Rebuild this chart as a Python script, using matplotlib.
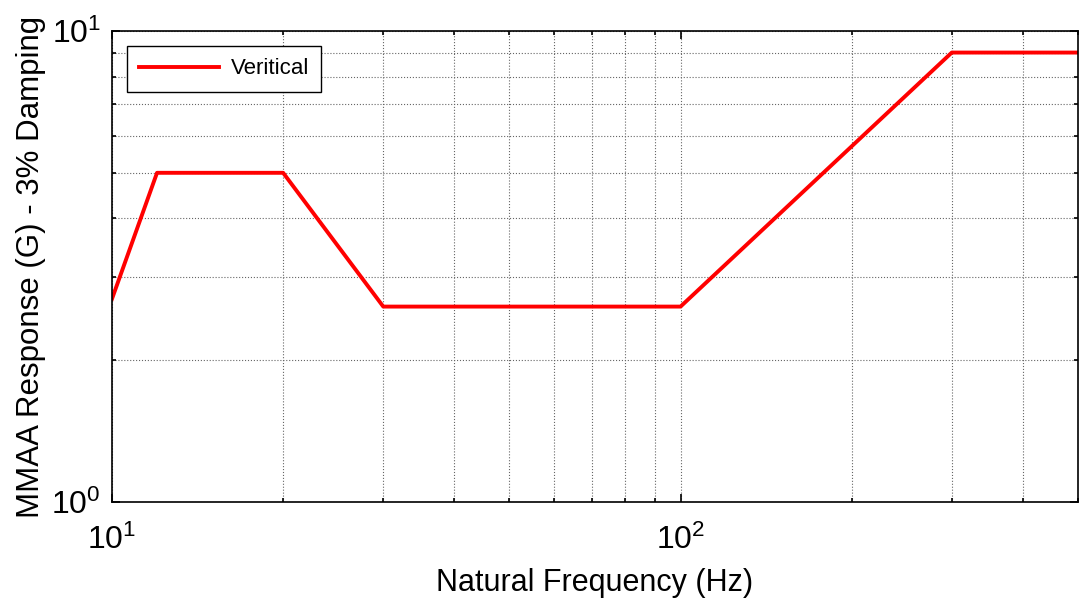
import matplotlib
matplotlib.use('Agg')
import matplotlib.pyplot as plt
from matplotlib.ticker import NullFormatter

# spectrum corner points
freq = [10, 12, 20, 30, 100, 300, 500]
resp = [2.7, 5.0, 5.0, 2.6, 2.6, 9.0, 9.0]
series_name = 'Veritical'

plt.rcParams['font.family'] = ['Liberation Sans', 'DejaVu Sans']
plt.rcParams['mathtext.fontset'] = 'custom'
plt.rcParams['mathtext.rm'] = 'Liberation Sans'

dpi = 100
fig = plt.figure(figsize=(1079 / dpi, 602 / dpi), dpi=dpi)
ax = fig.add_axes([0.1038, 0.166, 0.8952, 0.7825])

ax.plot(freq, resp, color='red', linewidth=2.8, label=series_name)
ax.set_xscale('log')
ax.set_yscale('log')
ax.set_xlim(10, 500)
ax.set_ylim(1, 10)
ax.xaxis.set_minor_formatter(NullFormatter())
ax.yaxis.set_minor_formatter(NullFormatter())

ax.grid(True, which='both', linestyle=':', color='0.4', linewidth=0.8)
ax.tick_params(which='both', direction='in', top=True, right=True, width=1.2)
ax.tick_params(which='major', length=6, labelsize=23)
ax.tick_params(axis='x', which='major', pad=16)
ax.tick_params(axis='y', which='major', pad=8)
ax.tick_params(which='minor', length=3)
for s in ax.spines.values():
    s.set_linewidth(1.2)

ax.set_xlabel('Natural Frequency (Hz)', fontsize=22, labelpad=9)
ax.set_ylabel('MMAA Response (G) - 3% Damping', fontsize=22.5, labelpad=4)

leg = ax.legend(loc='upper left', fontsize=16, fancybox=False, framealpha=1,
                edgecolor='black', handlelength=3.6, handletextpad=0.5,
                borderpad=0.55, borderaxespad=0.68)
leg.get_frame().set_linewidth(1.0)

fig.savefig('out.png', dpi=dpi)
